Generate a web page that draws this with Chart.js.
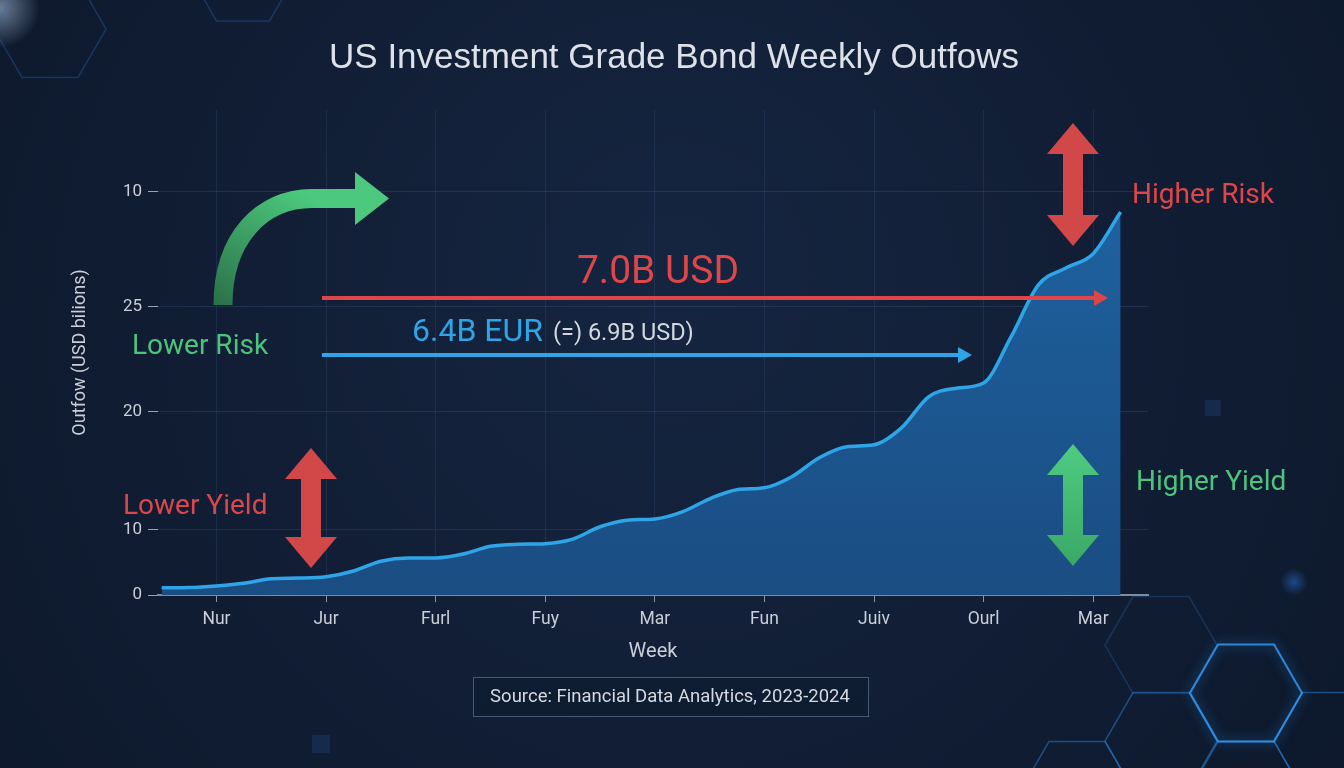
<!DOCTYPE html>
<html>
<head>
<meta charset="utf-8">
<script src="https://cdn.jsdelivr.net/npm/chart.js@4.4.1/dist/chart.umd.min.js"></script>
<style>
  html, body { margin: 0; padding: 0; background: #101b30; }
  #wrap { width: 1344px; height: 768px; }
</style>
</head>
<body>
<div id="wrap"><canvas id="flowChart" width="1344" height="768"></canvas></div>
<script>
// week index and weekly outflow (chart units)
const weeks = [0, 1, 2, 3, 4, 5, 6, 7, 8, 9, 10, 11, 12, 13, 14, 15, 16, 17,
               18, 19, 20, 21, 22, 23, 24, 25, 26, 27, 28, 29, 30, 31, 32, 33, 34, 35];
const outflows = [1.1, 1.15, 1.4, 1.8, 2.5, 2.6, 2.8, 3.7, 5.2, 5.7, 5.7, 6.3,
                  7.5, 7.8, 7.9, 8.6, 10.5, 11.5, 11.7, 12.8, 14.8, 16.2, 16.5, 18.2,
                  21.1, 22.8, 23.1, 25.7, 30.5, 31.8, 32.6, 39.7, 47.7, 50.3, 52.5, 58.9];

const xTickWeeks = [2, 6, 10, 14, 18, 22, 26, 30, 34];
const xTickLabels = ['Nur', 'Jur', 'Furl', 'Fuy', 'Mar', 'Fun', 'Juiv', 'Ourl', 'Mar'];
const yTickValues = [0, 10, 28.2, 44.3, 62];
const yTickLabels = ['0', '10', '20', '25', '10'];

const chartTitle = 'US Investment Grade Bond Weekly Outfows';

Chart.defaults.font.family = 'Roboto, "Liberation Sans", sans-serif';

const red = '#de4649';
const green = '#4cc47c';
const blue = '#2fa5e8';

function hexagon(ctx, cx, cy, r) {
    ctx.beginPath();
    for (let i = 0; i < 6; i++) {
        const a = Math.PI / 3 * i;
        const px = cx + r * Math.cos(a), py = cy + r * Math.sin(a);
        if (i === 0) ctx.moveTo(px, py); else ctx.lineTo(px, py);
    }
    ctx.closePath();
}

function doubleArrow(ctx, cx, top, bottom, fill) {
    const headH = 31, headW = 26, shaft = 10;
    ctx.save();
    ctx.fillStyle = fill;
    ctx.beginPath();
    ctx.moveTo(cx, top);
    ctx.lineTo(cx + headW, top + headH);
    ctx.lineTo(cx + shaft, top + headH);
    ctx.lineTo(cx + shaft, bottom - headH);
    ctx.lineTo(cx + headW, bottom - headH);
    ctx.lineTo(cx, bottom);
    ctx.lineTo(cx - headW, bottom - headH);
    ctx.lineTo(cx - shaft, bottom - headH);
    ctx.lineTo(cx - shaft, top + headH);
    ctx.lineTo(cx - headW, top + headH);
    ctx.closePath();
    ctx.fill();
    ctx.restore();
}

function flatArrow(ctx, x0, x1, y, color) {
    ctx.save();
    ctx.strokeStyle = color;
    ctx.fillStyle = color;
    ctx.lineWidth = 4;
    ctx.beginPath();
    ctx.moveTo(x0, y);
    ctx.lineTo(x1 - 12, y);
    ctx.stroke();
    ctx.beginPath();
    ctx.moveTo(x1, y);
    ctx.lineTo(x1 - 14, y - 8);
    ctx.lineTo(x1 - 14, y + 8);
    ctx.closePath();
    ctx.fill();
    ctx.restore();
}

const backdrop = {
    id: 'backdrop',
    beforeDraw(chart) {
        const ctx = chart.ctx;
        const w = chart.width, h = chart.height;
        ctx.save();
        const g = ctx.createRadialGradient(w * 0.5, h * 0.35, 50, w * 0.5, h * 0.5, w * 0.75);
        g.addColorStop(0, '#15243f');
        g.addColorStop(1, '#0b1526');
        ctx.fillStyle = g;
        ctx.fillRect(0, 0, w, h);

        const corner = ctx.createRadialGradient(0, 8, 0, 0, 8, 40);
        corner.addColorStop(0, 'rgba(200, 225, 255, 0.5)');
        corner.addColorStop(1, 'rgba(200, 225, 255, 0)');
        ctx.fillStyle = corner;
        ctx.fillRect(0, 0, 50, 50);

        ctx.lineWidth = 1.5;
        ctx.strokeStyle = 'rgba(50, 110, 180, 0.35)';
        hexagon(ctx, 50, 29, 56); ctx.stroke();
        hexagon(ctx, 243, -25, 53); ctx.stroke();
        ctx.strokeStyle = 'rgba(50, 110, 180, 0.3)';
        hexagon(ctx, 1161, 645, 56); ctx.stroke();
        ctx.strokeStyle = 'rgba(40, 130, 220, 0.5)';
        [[1161, 741], [1077, 790], [1330, 741], [1246, 790]].forEach(p => {
            hexagon(ctx, p[0], p[1], 56); ctx.stroke();
        });
        ctx.shadowColor = 'rgba(40, 160, 255, 0.9)';
        ctx.shadowBlur = 12;
        ctx.strokeStyle = 'rgba(50, 160, 255, 0.8)';
        ctx.lineWidth = 2;
        hexagon(ctx, 1246, 693, 56); ctx.stroke();
        ctx.shadowBlur = 0;

        const glow = ctx.createRadialGradient(1294, 582, 0, 1294, 582, 14);
        glow.addColorStop(0, 'rgba(40, 120, 220, 0.5)');
        glow.addColorStop(1, 'rgba(40, 120, 220, 0)');
        ctx.fillStyle = glow;
        ctx.fillRect(1278, 566, 32, 32);
        ctx.fillStyle = 'rgba(30, 60, 110, 0.45)';
        ctx.fillRect(312, 735, 18, 18);
        ctx.fillRect(1205, 400, 16, 16);

        ctx.textAlign = 'center';
        ctx.textBaseline = 'middle';
        ctx.font = '35px "Liberation Sans", Arial, sans-serif';
        ctx.fillStyle = '#dde1e8';
        ctx.fillText(chartTitle, 674, 58);
        ctx.restore();
    },
    afterDraw(chart) {
        const ctx = chart.ctx;
        ctx.save();

        // green curved arrow
        const cg = ctx.createLinearGradient(223, 305, 300, 190);
        cg.addColorStop(0, '#2c734a');
        cg.addColorStop(1, '#4cc97e');
        ctx.strokeStyle = cg;
        ctx.lineWidth = 19;
        ctx.beginPath();
        ctx.moveTo(223, 305);
        ctx.bezierCurveTo(223, 238, 262, 198.5, 312, 198.5);
        ctx.lineTo(357, 198.5);
        ctx.stroke();
        ctx.fillStyle = '#4cc97e';
        ctx.beginPath();
        ctx.moveTo(355, 172);
        ctx.lineTo(389, 198.5);
        ctx.lineTo(355, 225);
        ctx.closePath();
        ctx.fill();

        // double arrows
        doubleArrow(ctx, 311, 448, 568, '#d24748');
        doubleArrow(ctx, 1073, 123, 246, '#d24748');
        const yg = ctx.createLinearGradient(0, 444, 0, 566);
        yg.addColorStop(0, '#4fcb82');
        yg.addColorStop(1, '#3aa866');
        doubleArrow(ctx, 1073, 444, 566, yg);

        // conversion arrows
        flatArrow(ctx, 322, 1108, 298, red);
        flatArrow(ctx, 322, 972, 355, blue);

        ctx.textBaseline = 'alphabetic';
        ctx.textAlign = 'left';
        ctx.font = '28px Roboto, sans-serif';
        ctx.fillStyle = red;
        ctx.fillText('Higher Risk', 1132, 203);
        ctx.fillText('Lower Yield', 123, 514);
        ctx.fillStyle = green;
        ctx.fillText('Higher Yield', 1136, 490);
        ctx.fillText('Lower Risk', 132, 354);

        ctx.textAlign = 'center';
        ctx.font = '39px Roboto, sans-serif';
        ctx.fillStyle = red;
        ctx.fillText('7.0B USD', 658, 283);

        ctx.textAlign = 'left';
        ctx.font = '32px Roboto, sans-serif';
        ctx.fillStyle = blue;
        ctx.fillText('6.4B EUR', 412, 341);
        const ew = ctx.measureText('6.4B EUR').width;
        ctx.font = '23.5px Roboto, sans-serif';
        ctx.fillStyle = '#d3d8e0';
        ctx.fillText('(=) 6.9B USD)', 412 + ew + 10, 340);

        // source box
        ctx.fillStyle = 'rgba(14, 26, 46, 0.6)';
        ctx.fillRect(473, 677, 395, 39);
        ctx.strokeStyle = 'rgba(120, 140, 170, 0.55)';
        ctx.lineWidth = 1;
        ctx.strokeRect(473.5, 677.5, 395, 39);
        ctx.textAlign = 'center';
        ctx.textBaseline = 'middle';
        ctx.font = '18.5px Roboto, sans-serif';
        ctx.fillStyle = '#d5d9e0';
        ctx.fillText('Source: Financial Data Analytics, 2023-2024', 670, 697);
        ctx.restore();
    }
};

const data = {
    datasets: [{
        label: 'Weekly outflow',
        data: weeks.map((w, i) => ({ x: w, y: outflows[i] })),
        borderColor: blue,
        borderWidth: 3.5,
        pointRadius: 0,
        cubicInterpolationMode: 'monotone',
        fill: 'origin',
        backgroundColor: (context) => {
            const area = context.chart.chartArea;
            if (!area) return 'rgba(30, 100, 170, 0.8)';
            const g = context.chart.ctx.createLinearGradient(0, area.top, 0, area.bottom);
            g.addColorStop(0, '#1f66a6');
            g.addColorStop(1, '#1a4d82');
            return g;
        }
    }]
};

const config = {
    type: 'line',
    data: data,
    options: {
        responsive: false,
        animation: false,
        devicePixelRatio: 1,
        layout: { padding: { left: 60, right: 196, top: 110, bottom: 100 } },
        plugins: {
            legend: { display: false },
            tooltip: { enabled: false },
            title: { display: false }
        },
        scales: {
            x: {
                type: 'linear',
                min: -0.135,
                max: 36,
                afterFit: (scale) => { scale.height = 73; },
                afterBuildTicks: (scale) => { scale.ticks = xTickWeeks.map(v => ({ value: v })); },
                ticks: {
                    color: '#c9ced7',
                    font: { size: 17.5 },
                    padding: 7,
                    maxRotation: 0,
                    callback: (v, i) => xTickLabels[i]
                },
                grid: {
                    color: 'rgba(70, 100, 145, 0.22)',
                    tickColor: '#8a95a6',
                    tickLength: 7
                },
                border: { display: true, color: '#7f8a9b', width: 2 },
                title: {
                    display: true,
                    text: 'Week',
                    color: '#c9ced7',
                    font: { size: 20 },
                    padding: { top: 0, bottom: 4 }
                }
            },
            y: {
                min: 0,
                max: 74.6,
                afterFit: (scale) => { scale.width = 98; },
                afterBuildTicks: (scale) => { scale.ticks = yTickValues.map(v => ({ value: v })); },
                ticks: {
                    color: '#c9ced7',
                    font: { size: 17 },
                    padding: 6,
                    callback: (v, i) => yTickLabels[i]
                },
                grid: {
                    color: 'rgba(70, 100, 145, 0.28)',
                    tickColor: '#9aa3b0',
                    tickLength: 10
                },
                border: { display: false },
                title: {
                    display: true,
                    text: 'Outfow (USD bilions)',
                    color: '#c9ced7',
                    font: { size: 18 },
                    padding: { top: 10, bottom: 0 }
                }
            }
        }
    },
    plugins: [backdrop]
};

new Chart(document.getElementById('flowChart'), config);
</script>
</body>
</html>
